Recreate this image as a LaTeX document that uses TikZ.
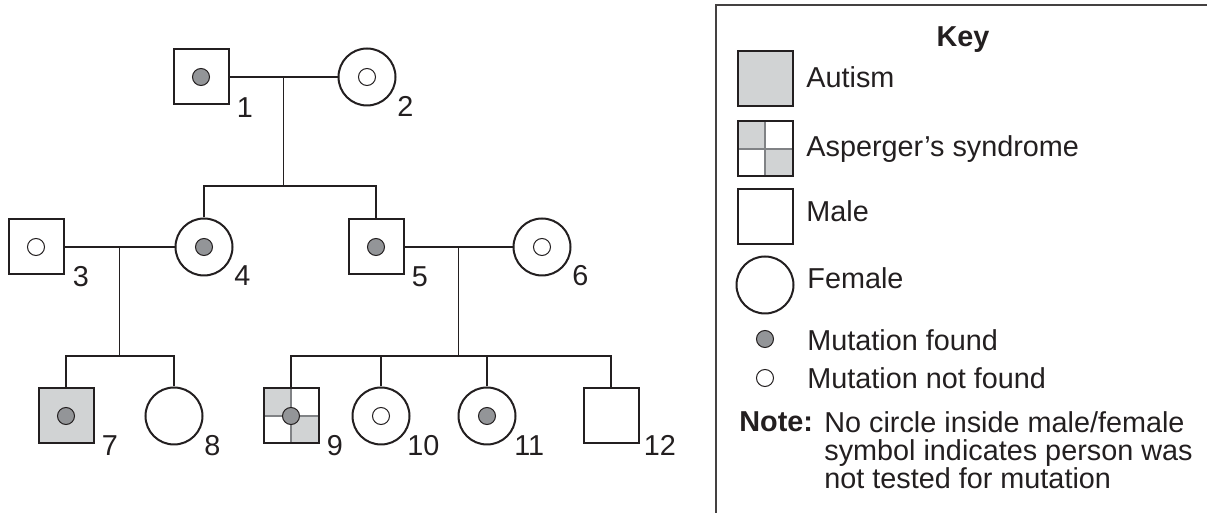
\documentclass[tikz,border=0pt]{standalone}
\usepackage{fontspec}
\setmainfont{Liberation Sans}
\usepackage{tikz}
\usetikzlibrary{positioning}
\usetikzlibrary{calc}
\definecolor{ink}{HTML}{231F20}
\definecolor{autismgrey}{HTML}{D1D3D4}
\definecolor{dotgrey}{HTML}{939598}
\definecolor{splitgrey}{HTML}{808285}

\begin{document}
\begin{tikzpicture}
  [
    x=0.5pt, y=-0.5pt,
    every node/.style={font=\fontsize{14.4}{14}\selectfont, text=ink},
    male/.style={rectangle, draw=ink, line width=1pt, fill=white,
      minimum size=27.5pt, inner sep=0pt},
    female/.style={circle, draw=ink, line width=1pt, fill=white,
      minimum size=28.5pt, inner sep=0pt},
    autism/.style={fill=autismgrey},
    asperger/.style={path picture={
        \fill[autismgrey] (path picture bounding box.north west) rectangle (path picture bounding box.center);
        \fill[autismgrey] (path picture bounding box.center) rectangle (path picture bounding box.south east);
        \draw[splitgrey, line width=0.7pt] (path picture bounding box.north) -- (path picture bounding box.south);
        \draw[splitgrey, line width=0.7pt] (path picture bounding box.west) -- (path picture bounding box.east);}},
    found/.style={circle, draw=ink, line width=0.5pt, fill=dotgrey,
      minimum size=8.5pt, inner sep=0pt},
    notfound/.style={found, fill=white},
    tag/.style={anchor=base west, inner sep=0pt},
    rel/.style={draw=ink, line width=0.6pt},
    keyframe/.style={draw=ink!85, line width=0.7pt}
  ]
  \useasboundingbox (0,0) rectangle (1207,513);

  % generation I
  \node (p1) at (201,77) [male] {};
  \node (p2) at (367,77) [female] {};
  % generation II
  \node (p3) at (36,247)  [male] {};
  \node (p4) at (204,247) [female] {};
  \node (p5) at (376,247) [male] {};
  \node (p6) at (542,247) [female] {};
  % generation III
  \node (p7)  at (66,416)  [male, autism] {};
  \node (p8)  at (174,416) [female] {};
  \node (p9)  at (291,416) [male, asperger] {};
  \node (p10) at (381,416) [female] {};
  \node (p11) at (487,416) [female] {};
  \node (p12) at (611,416) [male] {};

  \node (d1)  at (p1)  [found] {};
  \node (d2)  at (p2)  [notfound] {};
  \node (d3)  at (p3)  [notfound] {};
  \node (d4)  at (p4)  [found] {};
  \node (d5)  at (p5)  [found] {};
  \node (d6)  at (p6)  [notfound] {};
  \node (d7)  at (p7)  [found] {};
  \node (d9)  at (p9)  [found] {};
  \node (d10) at (p10) [notfound] {};
  \node (d11) at (p11) [found] {};

  \node (n1)  at ($(p1.south east)+(7,12)$)  [tag] {1};
  \node (n2)  at ($(p2.south east)+(9,19)$)  [tag] {2};
  \node (n3)  at ($(p3.south east)+(8,11)$)  [tag] {3};
  \node (n4)  at ($(p4.south east)+(9,18)$)  [tag] {4};
  \node (n5)  at ($(p5.south east)+(7,11)$)  [tag] {5};
  \node (n6)  at ($(p6.south east)+(9,18)$)  [tag] {6};
  \node (n7)  at ($(p7.south east)+(7,11)$)  [tag] {7};
  \node (n8)  at ($(p8.south east)+(9,19)$)  [tag] {8};
  \node (n9)  at ($(p9.south east)+(7,11)$)  [tag] {9};
  \node (n10) at ($(p10.south east)+(5,19)$) [tag] {10};
  \node (n11) at ($(p11.south east)+(6,19)$) [tag] {11};
  \node (n12) at ($(p12.south east)+(4,11)$) [tag] {12};

  % couples and sibships
  \coordinate (m12) at ($(p1.east)!0.5!(p2.west)$);
  \coordinate (s12) at (m12 |- 0,186);
  \coordinate (m34) at ($(p3.east)!0.5!(p4.west)$);
  \coordinate (s34) at (m34 |- 0,356);
  \coordinate (m56) at ($(p5.east)!0.5!(p6.west)$);
  \coordinate (s56) at (m56 |- 0,356);

  \draw [rel] (p1) -- (p2);
  \draw [rel] (m12) -- (s12);
  \draw [rel] (p4) |- (s12) -| (p5);
  \draw [rel] (p3) -- (p4);
  \draw [rel] (m34) -- (s34);
  \draw [rel] (p7) |- (s34) -| (p8);
  \draw [rel] (p5) -- (p6);
  \draw [rel] (m56) -- (s56);
  \draw [rel] (p9) |- (s56) -| (p12);
  \draw [rel] (p10) -- (p10 |- s56);
  \draw [rel] (p11) -- (p11 |- s56);

  % key
  \draw [keyframe] (716,513) |- (1207,5);
  \node (keyhead) at (963,47) [anchor=base, inner sep=0pt] {\bfseries Key};
  \node (k1) at (765,79)  [male, autism] {};
  \node (k2) at (765,149) [male, asperger] {};
  \node (k3) at (765,217) [male] {};
  \node (k4) at (765,285) [female] {};
  \node (k5) at (765,339) [found] {};
  \node (k6) at (765,378) [notfound] {};

  \node (t1) at (806,88)  [tag] {Autism};
  \node (t2) at (806,157) [tag] {Asperger’s syndrome};
  \node (t3) at (806,222) [tag] {Male};
  \node (t4) at (807,289) [tag] {Female};
  \node (t5) at (807,351) [tag] {Mutation found};
  \node (t6) at (807,389) [tag] {Mutation not found};
  \node (note) at (739,432) [tag] {\bfseries Note:};
  \node (notetext) at (824,411) [anchor=north west, inner sep=0pt, align=left]
    {No circle inside male/female\\symbol indicates person was\\not tested for mutation};
\end{tikzpicture}
\end{document}
